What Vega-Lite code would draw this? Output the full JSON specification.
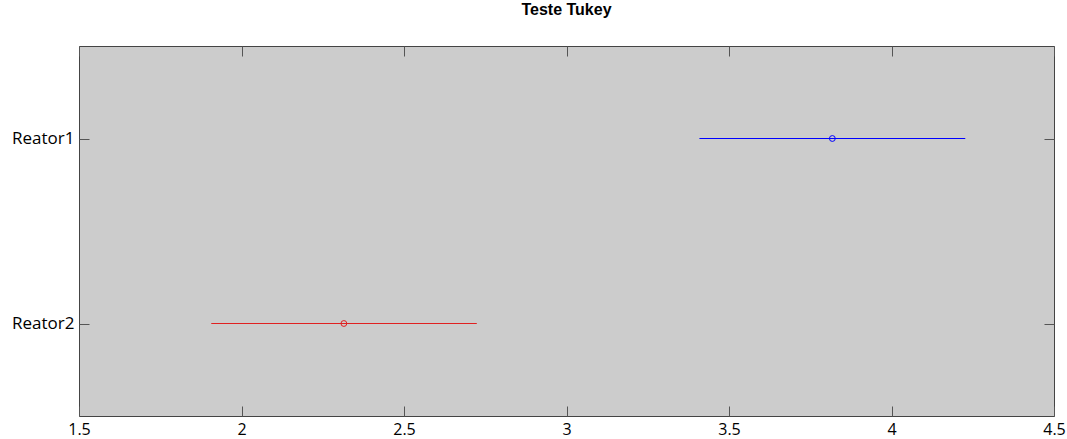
{
  "$schema": "https://vega.github.io/schema/vega-lite/v6.json",
  "autosize": {"type": "none"},
  "padding": {"left": 79, "top": 46, "right": 13, "bottom": 23},
  "width": 975,
  "height": 370,
  "background": "#ffffff",
  "title": {
    "text": "Teste Tukey",
    "font": "Liberation Sans",
    "fontSize": 16,
    "fontWeight": "bold",
    "color": "#000000",
    "anchor": "middle",
    "frame": "group",
    "baseline": "alphabetic",
    "offset": 15
  },
  "config": {
    "view": {"fill": "#cccccc", "stroke": "#444444", "strokeWidth": 1},
    "axis": {
      "domain": false,
      "grid": false,
      "ticks": true,
      "tickSize": -10,
      "tickColor": "#555555",
      "tickWidth": 1,
      "labelFont": "Open Sans",
      "labelFontSize": 17,
      "labelColor": "#000000",
      "title": null
    }
  },
  "data": {
    "values": [
      {"group": "Reator1", "lo": 3.409, "mean": 3.818, "hi": 4.227},
      {"group": "Reator2", "lo": 1.907, "mean": 2.315, "hi": 2.724}
    ]
  },
  "resolve": {"axis": {"x": "independent", "y": "independent"}},
  "layer": [
    {
      "mark": {"type": "rule", "strokeWidth": 1},
      "encoding": {
        "x": {
          "field": "lo",
          "type": "quantitative",
          "scale": {"domain": [1.5, 4.5], "nice": false, "zero": false},
          "axis": {
            "orient": "bottom",
            "values": [1.5, 2, 2.5, 3, 3.5, 4, 4.5],
            "format": "~g",
            "labelFontSize": 16,
            "labelPadding": 15,
            "labelFlush": false,
            "labelOverlap": false
          }
        },
        "x2": {"field": "hi"},
        "y": {
          "field": "group",
          "type": "nominal",
          "scale": {"type": "point", "padding": 0.5, "domain": ["Reator1", "Reator2"]},
          "axis": {"orient": "left", "labelPadding": 15}
        },
        "color": {
          "field": "group",
          "type": "nominal",
          "scale": {"domain": ["Reator1", "Reator2"], "range": ["#0000ff", "#e02020"]},
          "legend": null
        }
      }
    },
    {
      "mark": {"type": "point", "shape": "circle", "filled": false, "size": 34, "strokeWidth": 1, "opacity": 1},
      "encoding": {
        "x": {
          "field": "mean",
          "type": "quantitative",
          "scale": {"domain": [1.5, 4.5], "nice": false, "zero": false},
          "axis": {
            "orient": "top",
            "values": [1.5, 2, 2.5, 3, 3.5, 4, 4.5],
            "labels": false
          }
        },
        "y": {
          "field": "group",
          "type": "nominal",
          "scale": {"type": "point", "padding": 0.5, "domain": ["Reator1", "Reator2"]},
          "axis": {"orient": "right", "labels": false}
        },
        "color": {
          "field": "group",
          "type": "nominal",
          "scale": {"domain": ["Reator1", "Reator2"], "range": ["#0000ff", "#e02020"]},
          "legend": null
        }
      }
    }
  ]
}
